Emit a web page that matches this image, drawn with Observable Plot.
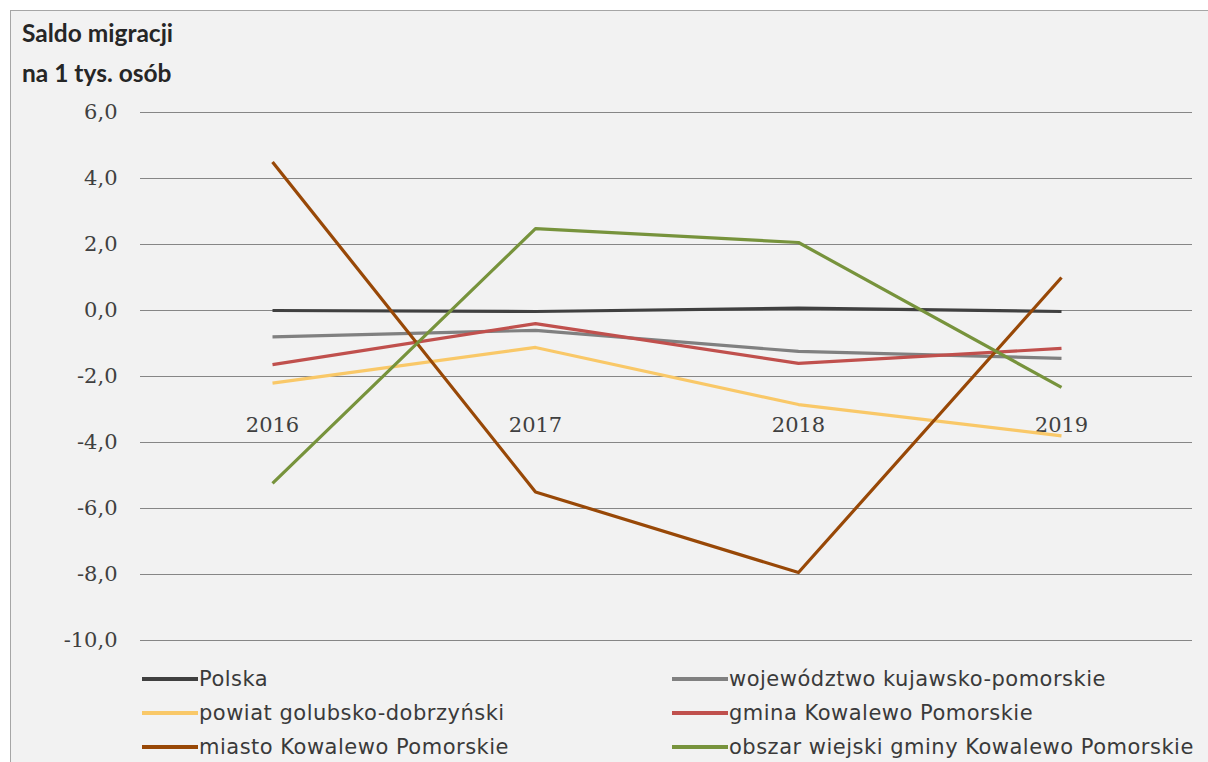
<!DOCTYPE html>
<html><head><meta charset="utf-8">
<script src="https://cdn.jsdelivr.net/npm/d3@7"></script>
<script src="https://cdn.jsdelivr.net/npm/@observablehq/plot@0.6"></script>
<style>
html,body{margin:0;padding:0;background:#fff;width:1208px;height:762px;overflow:hidden;}
#frame{position:absolute;left:10px;top:10px;width:1210px;height:760px;background:#f2f2f2;border-left:1.5px solid #a6a6a6;border-top:1.5px solid #a6a6a6;}
#chart{position:absolute;left:0;top:0;}
#title{position:absolute;left:22px;top:13px;font-family:Lato,"DejaVu Sans",sans-serif;font-weight:bold;font-size:24.5px;line-height:40px;color:#262626;}
.leg{position:absolute;font-family:"DejaVu Sans",sans-serif;font-size:21px;letter-spacing:0.5px;color:#3a3a3a;display:flex;align-items:center;white-space:nowrap;height:30px;}
.leg span.sw{display:inline-block;width:56px;height:4px;margin-right:1px;}
</style></head>
<body>
<div id="frame"></div>
<div id="chart"></div>
<div id="title">Saldo migracji<br>na 1 tys. osób</div>
<div id="legend"></div>
<script>
const years = ["2016", "2017", "2018", "2019"];
const seriesNames = [
  "Polska",
  "województwo kujawsko-pomorskie",
  "powiat golubsko-dobrzyński",
  "gmina Kowalewo Pomorskie",
  "miasto Kowalewo Pomorskie",
  "obszar wiejski gminy Kowalewo Pomorskie"
];
const polska = [0.0, -0.03, 0.07, -0.03];
const wojewodztwo = [-0.8, -0.6, -1.24, -1.45];
const powiat = [-2.2, -1.12, -2.85, -3.8];
const gmina = [-1.64, -0.4, -1.6, -1.15];
const miasto = [4.5, -5.5, -7.94, 1.0];
const obszar = [-5.24, 2.48, 2.06, -2.33];
const seriesValues = [polska, wojewodztwo, powiat, gmina, miasto, obszar];
const colors = ["#404040", "#808080", "#f9c868", "#c0504d", "#984807", "#77933c"];
const yTicks = [6, 4, 2, 0, -2, -4, -6, -8, -10];
const xAxisCrossing = -3;

const rows = [];
seriesNames.forEach((s, i) => years.forEach((y, j) => rows.push({series: s, year: y, value: seriesValues[i][j]})));

const fmt = d => d.toFixed(1).replace(".", ",");

const plot = Plot.plot({
  width: 1208,
  height: 762,
  marginLeft: 140,
  marginRight: 16,
  marginTop: 112,
  marginBottom: 122,
  style: {background: "transparent", overflow: "visible"},
  x: {type: "point", domain: years, padding: 0.5, axis: null},
  y: {domain: [-10, 6], axis: null},
  color: {domain: seriesNames, range: colors},
  marks: [
    Plot.gridY(yTicks, {stroke: "#868686", strokeOpacity: 1, strokeWidth: 1.2}),
    Plot.axisY(yTicks, {tickSize: 0, tickPadding: 23, tickFormat: fmt, fontSize: 21, fontFamily: "DejaVu Serif", fill: "#404040", label: null}),
    Plot.text(years, {x: d => d, y: () => xAxisCrossing, text: d => d, dy: 16, fontSize: 21, fontFamily: "DejaVu Serif", fill: "#404040"}),
    Plot.line(rows, {x: "year", y: "value", z: "series", stroke: "series", strokeWidth: 3.2, strokeLinejoin: "round", strokeLinecap: "butt"})
  ]
});
document.getElementById("chart").appendChild(plot);

const legend = document.getElementById("legend");
const legPos = [[142, 664], [672, 664], [142, 698], [672, 698], [142, 732], [672, 732]];
seriesNames.forEach((s, i) => {
  const d = document.createElement("div");
  d.className = "leg";
  d.style.left = legPos[i][0] + "px";
  d.style.top = legPos[i][1] + "px";
  d.innerHTML = `<span class="sw" style="background:${colors[i]}"></span>${s}`;
  legend.appendChild(d);
});
</script>
</body></html>
